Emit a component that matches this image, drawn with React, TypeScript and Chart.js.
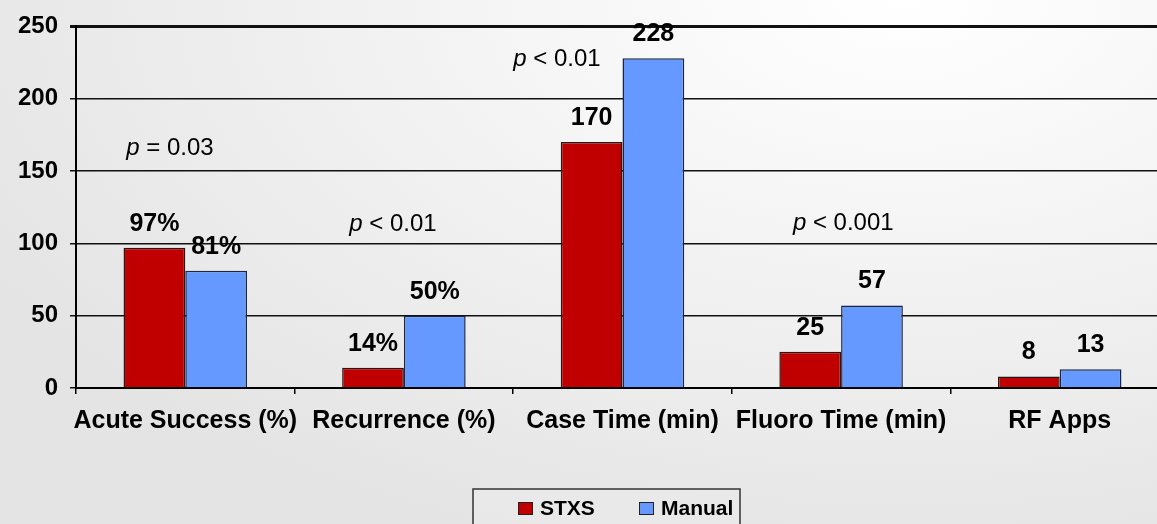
import React, { useEffect, useRef } from "react";
import { Chart, registerables } from "chart.js";

Chart.register(...registerables);

const categories = ["Acute Success (%)", "Recurrence (%)", "Case Time (min)", "Fluoro Time (min)", "RF Apps"];
const stxsValues = [97, 14, 170, 25, 8];
const manualValues = [81, 50, 228, 57, 13];
const stxsLabels = ["97%", "14%", "170", "25", "8"];
const manualLabels = ["81%", "50%", "228", "57", "13"];
const yTicks = [0, 50, 100, 150, 200, 250];

// significance annotations (category position as fractional index, value on y scale)
const annotPrefix = ["p", "p", "p", "p", ""];
const annotRest = [" = 0.03", " < 0.01", " < 0.01", " < 0.001", "NS"];
const annotCategory = [-0.07, 0.95, 1.7, 3.01, 4.97];
const annotValue = [166, 113, 227, 114, 84];

const FONT = "'Liberation Sans', Arial, sans-serif";

export default function App() {
  const ref = useRef<HTMLCanvasElement | null>(null);

  useEffect(() => {
    document.body.style.margin = "0";
    document.documentElement.style.overflow = "hidden";
    const canvas = ref.current!;
    const labelsPlugin = {
      id: "customDraw",
      afterDatasetsDraw(chart: any) {
        const ctx = chart.ctx;
        ctx.save();
        ctx.fillStyle = "#000";
        ctx.textAlign = "center";
        ctx.textBaseline = "middle";
        ctx.font = `bold 25px ${FONT}`;
        const sets = [stxsLabels, manualLabels];
        sets.forEach((labs, di) => {
          const meta = chart.getDatasetMeta(di);
          meta.data.forEach((bar: any, i: number) => {
            ctx.fillText(labs[i], bar.x, bar.y - 24);
          });
        });
        // annotations
        const x = chart.scales.x;
        const y = chart.scales.y;
        const catW = (x.right - x.left) / categories.length;
        ctx.textBaseline = "middle";
        ctx.textAlign = "left";
        annotRest.forEach((rest, i) => {
          const cx = x.left + (annotCategory[i] + 0.5) * catW;
          const cy = y.getPixelForValue(annotValue[i]);
          const pre = annotPrefix[i];
          ctx.font = `italic 24px ${FONT}`;
          const wPre = ctx.measureText(pre).width;
          const restItalic = pre === "";
          ctx.font = `${restItalic ? "italic " : ""}24px ${FONT}`;
          const wRest = ctx.measureText(rest).width;
          const start = cx - (wPre + wRest) / 2;
          ctx.font = `italic 24px ${FONT}`;
          ctx.fillText(pre, start, cy);
          ctx.font = `${restItalic ? "italic " : ""}24px ${FONT}`;
          ctx.fillText(rest, start + wPre, cy);
        });
        // legend
        const bx = 473, by = 489, bw = 267, bh = 60;
        ctx.fillStyle = "rgba(235,235,235,0.6)";
        ctx.fillRect(bx, by, bw, bh);
        ctx.strokeStyle = "#333";
        ctx.lineWidth = 1.5;
        ctx.strokeRect(bx, by, bw, bh);
        ctx.font = `bold 21px ${FONT}`;
        ctx.textBaseline = "middle";
        ctx.textAlign = "left";
        const items = chart.data.datasets.map((d: any) => ({ label: d.label, color: d.backgroundColor }));
        const itemX = [518, 639];
        items.forEach((it: any, i: number) => {
          ctx.fillStyle = it.color;
          ctx.fillRect(itemX[i], 502, 14, 12);
          ctx.strokeStyle = "#222";
          ctx.lineWidth = 1;
          ctx.strokeRect(itemX[i] + 0.5, 502.5, 14, 12);
          ctx.fillStyle = "#000";
          ctx.fillText(it.label, itemX[i] + 22, 509);
        });
        ctx.restore();
      },
    };

    const chart = new Chart(canvas, {
      type: "bar",
      data: {
        labels: categories,
        datasets: [
          {
            label: "STXS",
            data: stxsValues,
            backgroundColor: "#C00000",
            borderColor: "#2a1616",
            borderWidth: 1.5,
            categoryPercentage: 0.565,
            barPercentage: 1,
          },
          {
            label: "Manual",
            data: manualValues,
            backgroundColor: "#6699FF",
            borderColor: "#1c2640",
            borderWidth: 1.5,
            categoryPercentage: 0.565,
            barPercentage: 1,
          },
        ],
      },
      options: {
        responsive: false,
        animation: false,
        layout: { padding: { top: 24, right: 3, left: 0, bottom: 0 } },
        plugins: { legend: { display: false }, tooltip: { enabled: false } },
        scales: {
          x: {
            afterFit(scale: any) {
              scale.height = 136;
            },
            grid: {
              drawOnChartArea: false,
              drawTicks: true,
              tickLength: 6,
              color: "#000",
              lineWidth: 1.5,
            },
            border: { display: true, color: "#000", width: 2 },
            ticks: {
              color: "#000",
              font: { family: FONT, size: 25, weight: "bold" },
              padding: 12,
              maxRotation: 0,
              autoSkip: false,
            },
          },
          y: {
            min: 0,
            max: 250,
            afterFit(scale: any) {
              scale.width = 76;
            },
            afterBuildTicks(scale: any) {
              scale.ticks = yTicks.map((v) => ({ value: v }));
            },
            grid: {
              color: "#111",
              lineWidth: (c: any) => (c.tick && c.tick.value === 250 ? 3 : 1.5),
              tickLength: 6,
            },
            border: { display: true, color: "#000", width: 2 },
            ticks: {
              color: "#000",
              font: { family: FONT, size: 24, weight: "bold" },
              padding: 12,
            },
          },
        },
      },
      plugins: [labelsPlugin],
    });
    return () => chart.destroy();
  }, []);

  return (
    <div
      style={{
        width: 1157,
        height: 524,
        overflow: "hidden",
        position: "relative",
        background: "radial-gradient(ellipse 90% 110% at 78% 0%, #ffffff 0%, #f6f6f6 35%, #e4e4e4 100%)",
      }}
    >
      <canvas ref={ref} width={1172} height={524} style={{ display: "block" }} />
    </div>
  );
}
